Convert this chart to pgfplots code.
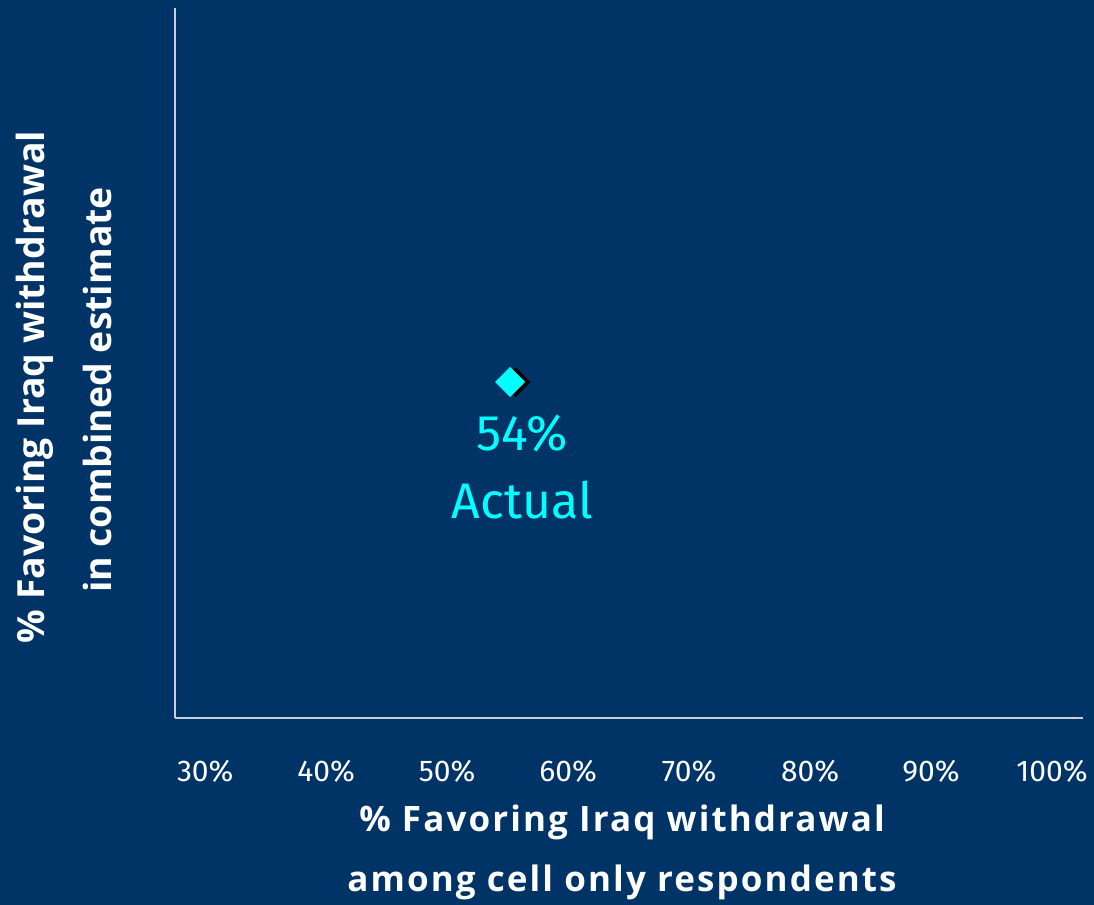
\documentclass[border=0pt]{standalone}
\usepackage{fontspec}
\setmainfont{Fira Sans}
\newfontfamily\labfont{Open Sans}
\newfontfamily\xlabfont{Open Sans}[LetterSpace=6.0]
\usepackage{pgfplots}
\pgfplotsset{compat=1.18}
\definecolor{bg}{HTML}{003366}
\definecolor{axcol}{HTML}{C8D0DC}
\definecolor{cy}{HTML}{00FFFF}
\begin{document}
\begin{tikzpicture}[x=1pt,y=1pt]
\fill[bg] (0,0) rectangle (547,452.5);
\begin{axis}[
  at={(87.5pt,93.5pt)}, anchor=south west,
  scale only axis, width=454pt, height=355pt,
  xmin=27.5, xmax=102.56, ymin=27.5, ymax=102.5,
  axis lines=left, axis line style={-, axcol, line width=0.7pt},
  xtick={30,40,50,60,70,80,90,100},
  xticklabels={30\%,40\%,50\%,60\%,70\%,80\%,90\%,100\%},
  ytick=\empty,
  major tick length=0pt,
  xticklabel style={font=\fontsize{15}{17}\selectfont, text=white, yshift=-17.5pt},
  clip=false,
]
\addplot[only marks, mark=square*, mark size=5.1pt, mark options={rotate=45, fill=black, draw=black, xshift=1.8pt, yshift=-2pt}] coordinates {(55.2,63)};
\addplot[only marks, mark=square*, mark size=5.1pt, mark options={rotate=45, fill=cy, draw=cy}] coordinates {(55.2,63)};
\node[text=cy, font=\fontsize{25}{34}\selectfont, align=center, anchor=north] at (axis cs:56.2,60.3) {54\%\\Actual};
\end{axis}
\node[text=white, font=\xlabfont\bfseries\fontsize{17.5}{20}\selectfont] at (311,41.5) {\% Favoring Iraq withdrawal};
\node[text=white, font=\xlabfont\bfseries\fontsize{17.5}{20}\selectfont] at (311,11.5) {among cell only respondents};
\node[text=white, font=\labfont\bfseries\fontsize{18.7}{22}\selectfont, rotate=90] at (17.5,259) {\% Favoring Iraq withdrawal};
\node[text=white, font=\labfont\bfseries\fontsize{18.7}{22}\selectfont, rotate=90] at (48.5,257.5) {in combined estimate};
\pgfresetboundingbox
\path (0,0) rectangle (547,452.5);
\end{tikzpicture}
\end{document}
